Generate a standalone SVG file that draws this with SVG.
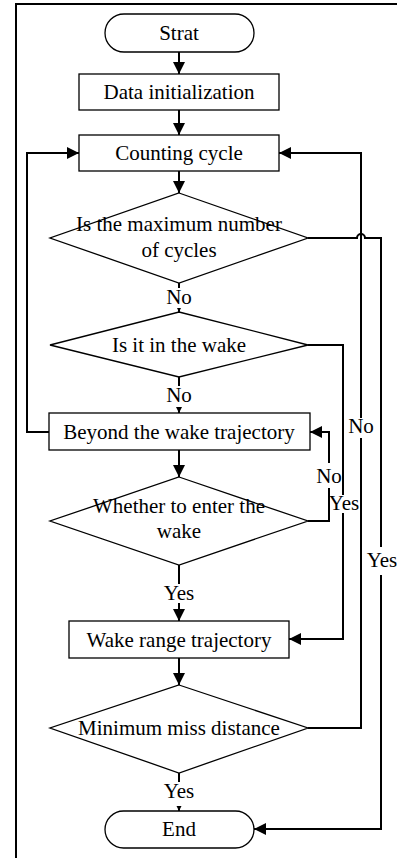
<svg xmlns="http://www.w3.org/2000/svg" width="397" height="858" viewBox="0 0 397 858">
<style>
text{font-size:21px;fill:#000;text-anchor:middle}
.node{fill:#fff;stroke:#000;stroke-width:1.3}
.conn{fill:none;stroke:#000;stroke-width:2}
.lbg{fill:#fff;stroke:none}
</style>
<defs>
<marker id="ah" viewBox="0 0 12 12" refX="12" refY="6" markerWidth="12" markerHeight="12" markerUnits="userSpaceOnUse" orient="auto">
<path d="M0,0 L12,6 L0,12 Z" fill="#000"/>
</marker>
</defs>
<rect width="397" height="858" fill="#fff"/>
<g font-family="'Liberation Serif', 'DejaVu Serif', serif">
<path d="M16,858 V4 H397" fill="none" stroke="#000" stroke-width="2"/>
<g id="connectors">
<path class="conn" d="M179,52 V74" marker-end="url(#ah)"/>
<path class="conn" d="M179,110 V135" marker-end="url(#ah)"/>
<path class="conn" d="M179,171 V193" marker-end="url(#ah)"/>
<path class="conn" d="M179,283 V312" marker-end="url(#ah)"/>
<path class="conn" d="M179,377 V413" marker-end="url(#ah)"/>
<path class="conn" d="M179,450 V477" marker-end="url(#ah)"/>
<path class="conn" d="M179,565 V621" marker-end="url(#ah)"/>
<path class="conn" d="M179,658 V685" marker-end="url(#ah)"/>
<path class="conn" d="M179,773 V811" marker-end="url(#ah)"/>
<path class="conn" d="M49,432 H27 V153 H79" marker-end="url(#ah)"/>
<path class="conn" d="M308,728 H361 V153 H279" marker-end="url(#ah)"/>
<path class="conn" d="M308,238 H357 A4,4 0 0 1 365,238 H381 V829 H254" marker-end="url(#ah)"/>
<path class="conn" d="M308,345 H343 V639 H289" marker-end="url(#ah)"/>
<path class="conn" d="M308,521 H329 V432 H310" marker-end="url(#ah)"/>
<g id="labels">
<rect class="lbg" x="165" y="288" width="28" height="20"/>
<text x="179" y="304">No</text>
<rect class="lbg" x="165" y="386" width="28" height="21"/>
<text x="179" y="402">No</text>
<rect class="lbg" x="162" y="584" width="34" height="19"/>
<text x="179" y="600">Yes</text>
<rect class="lbg" x="162" y="782" width="34" height="24"/>
<text x="179" y="798">Yes</text>
<rect class="lbg" x="347" y="418" width="28" height="20"/>
<text x="361" y="433">No</text>
<rect class="lbg" x="315" y="463" width="27" height="25"/>
<text x="329" y="483">No</text>
<rect class="lbg" x="330.5" y="495" width="28" height="18"/>
<text x="344" y="510">Yes</text>
<rect class="lbg" x="366" y="547" width="31" height="28"/>
<text x="382" y="567">Yes</text>
</g>
</g>
<g id="start">
<rect class="node" x="105" y="14" width="149" height="38" rx="19" ry="19"/>
<text x="179" y="40">Strat</text>
</g>
<g id="data-init">
<rect class="node" x="79" y="74" width="200" height="36"/>
<text x="179" y="99">Data initialization</text>
</g>
<g id="counting">
<rect class="node" x="79" y="135" width="200" height="36"/>
<text x="179" y="160">Counting cycle</text>
</g>
<g id="max-cycles">
<polygon class="node" points="179,193 308,238 179,283 50,238"/>
<text x="179" y="231">Is the maximum number</text>
<text x="179" y="257">of cycles</text>
</g>
<g id="in-wake">
<polygon class="node" points="179,312 308,345 179,377 50,345"/>
<text x="179" y="352">Is it in the wake</text>
</g>
<g id="beyond">
<rect class="node" x="49" y="413" width="261" height="37"/>
<text x="179" y="439">Beyond the wake trajectory</text>
</g>
<g id="enter-wake">
<polygon class="node" points="179,477 308,521 179,565 50,521"/>
<text x="179" y="513">Whether to enter the</text>
<text x="179" y="538">wake</text>
</g>
<g id="wake-range">
<rect class="node" x="69" y="621" width="220" height="37"/>
<text x="179" y="647">Wake range trajectory</text>
</g>
<g id="min-miss">
<polygon class="node" points="179,685 308,728 179,773 50,728"/>
<text x="179" y="735">Minimum miss distance</text>
</g>
<g id="end">
<rect class="node" x="105" y="811" width="149" height="37" rx="18.5" ry="18.5"/>
<text x="179" y="836">End</text>
</g>
</g>
</svg>
